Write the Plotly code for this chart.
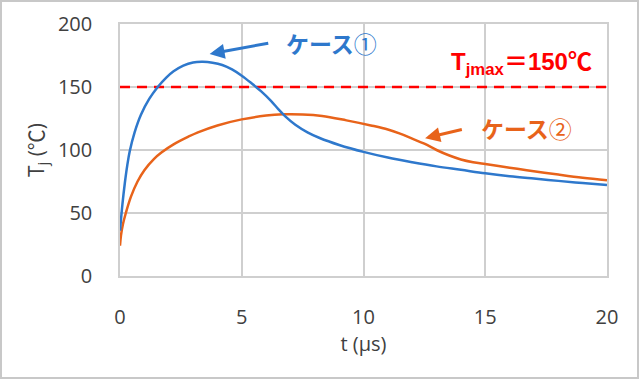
import plotly.graph_objects as go

# ---- data ----
t_case1 = [0, 0.1, 0.2, 0.3, 0.4, 0.6, 0.86, 1.2, 1.55, 1.9, 2.2, 2.6, 3.0, 3.4, 3.8,
           4.2, 4.6, 5.0, 5.4, 5.8, 6.2, 6.5, 6.8, 7.2, 7.7, 8.2, 9.0, 10.0, 11.0, 12.0,
           13.0, 14.0, 15.0, 16.0, 17.0, 18.0, 19.0, 20.0]
T_case1 = [36, 57, 74, 88, 99, 114, 128, 140.5, 150, 157.5, 162.5, 167, 169.5, 170, 169.3,
           167.5, 164, 159, 153, 146.5, 139, 132.5, 126.5, 120, 114, 109.5, 104, 98.5, 94, 90.3,
           87, 84.3, 81.5, 79.2, 77.3, 75.5, 73.8, 72.3]

t_case2 = [0, 0.04, 0.12, 0.24, 0.45, 0.72, 1.0, 1.4, 1.7, 2.2, 2.8, 3.2, 4.0, 5.0, 6.0, 6.7,
           7.5, 8.3, 9.3, 10.3, 11.0, 11.5, 12.0, 12.5, 13.0, 13.5, 14.0, 14.5, 15.0, 16.0,
           16.7, 18.0, 19.0, 20.0]
T_case2 = [24, 32, 41, 50, 63, 75, 84, 93, 98, 104.5, 110.5, 114, 119.5, 124.3, 127.3, 128.3,
           128.2, 127, 123.5, 119.5, 116.3, 113, 109, 105, 100, 95.8, 92.5, 90.3, 88.8, 86,
           84, 80.5, 78, 76]

tjmax_t = [0, 20]
tjmax_T = [150, 150]

x_ticks = [0, 5, 10, 15, 20]
y_ticks = [0, 50, 100, 150, 200]

label_case1 = "<b>ケース</b>①"
label_case2 = "<b>ケース</b>②"
label_tjmax = "<b>T<sub>jmax</sub>＝150℃</b>"

BLUE = "#2E78CC"
ORANGE = "#E8631A"
RED = "#FF0000"
GRID = "#CFCFCF"
TXT = "#404040"

fig = go.Figure()
fig.add_trace(go.Scatter(x=tjmax_t, y=tjmax_T, mode="lines",
                         line=dict(color=RED, width=2.5, dash="10px,7px"),
                         hoverinfo="skip"))
fig.add_trace(go.Scatter(x=t_case2, y=T_case2, mode="lines",
                         line=dict(color=ORANGE, width=2.5, shape="spline", smoothing=1.0)))
fig.add_trace(go.Scatter(x=t_case1, y=T_case1, mode="lines",
                         line=dict(color=BLUE, width=2.5, shape="spline", smoothing=1.0)))

W, H = 640, 380
ml, mr, mt, mb = 120, 33, 24, 104
pw, ph = W - ml - mr, H - mt - mb

fig.update_layout(
    width=W, height=H,
    margin=dict(l=ml, r=mr, t=mt, b=mb, pad=0, autoexpand=False),
    paper_bgcolor="white", plot_bgcolor="white",
    showlegend=False,
    font=dict(family="Open Sans, Noto Sans CJK JP", color=TXT),
    xaxis=dict(range=[0, 20], tickvals=x_ticks, showgrid=True, gridcolor=GRID, gridwidth=1.5,
               showline=True, linecolor=GRID, linewidth=1.5, mirror=True, zeroline=False,
               ticks="outside", ticklen=22, tickcolor="rgba(0,0,0,0)", automargin=False,
               tickfont=dict(size=20, color=TXT),
               title=dict(text="t (μs)", font=dict(size=20, color=TXT), standoff=5)),
    yaxis=dict(range=[0, 200], tickvals=y_ticks, showgrid=True, gridcolor=GRID, gridwidth=1.5,
               showline=True, linecolor=GRID, linewidth=1.5, mirror=True, zeroline=False,
               ticks="outside", ticklen=22, tickcolor="rgba(0,0,0,0)", automargin=False,
               tickfont=dict(size=20, color=TXT),
               title=dict(text="T<sub>j</sub> (℃)", font=dict(size=21, color=TXT), standoff=8)),
)

fig.add_annotation(x=8.7, y=185, xref="x", yref="y", text=label_case1, showarrow=False,
                   font=dict(size=23, color=BLUE, family="Noto Sans CJK JP"))
fig.add_annotation(x=3.68, y=176.2, ax=6.15, ay=185, xref="x", yref="y", axref="x", ayref="y",
                   text="", showarrow=True, arrowhead=2, arrowsize=1, arrowwidth=3,
                   arrowcolor=BLUE)
fig.add_annotation(x=16.7, y=117.3, xref="x", yref="y", text=label_case2, showarrow=False,
                   font=dict(size=23, color=ORANGE, family="Noto Sans CJK JP"))
fig.add_annotation(x=12.53, y=109.4, ax=14.1, ay=116.5, xref="x", yref="y", axref="x", ayref="y",
                   text="", showarrow=True, arrowhead=2, arrowsize=1, arrowwidth=3,
                   arrowcolor=ORANGE)
fig.add_annotation(x=19.45, y=169, xref="x", yref="y", xanchor="right", text=label_tjmax,
                   showarrow=False,
                   font=dict(size=24, color=RED, family="Liberation Sans, Noto Sans CJK JP"))

# outer chart border
fig.add_shape(type="rect", xref="paper", yref="paper",
              x0=(1 - ml) / pw, x1=(W - 2 - ml) / pw,
              y0=(mt + ph - (H - 2)) / ph, y1=(mt + ph - 1) / ph,
              line=dict(color="#C8C8C8", width=2), fillcolor="rgba(0,0,0,0)")

fig.write_html("out.html", config={"displayModeBar": False},
               post_script="document.body.style.margin='0px';document.body.style.overflow='hidden';")
